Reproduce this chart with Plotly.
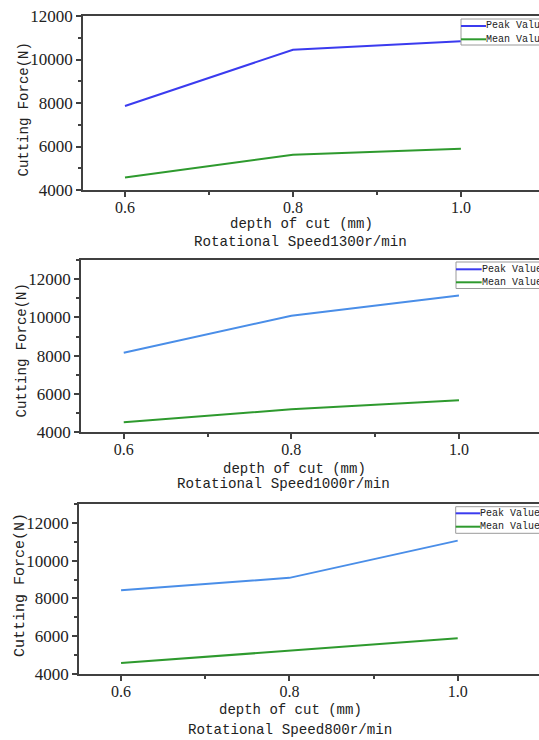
import plotly.graph_objects as go

W, H = 539, 740

depth = [0.6, 0.8, 1.0]
x_ticks = [0.6, 0.8, 1.0]
y_ticks = [4000, 6000, 8000, 10000, 12000]

speeds = ["Rotational Speed1300r/min", "Rotational Speed1000r/min", "Rotational Speed800r/min"]
peak_1300 = [7860, 10450, 10840]
mean_1300 = [4580, 5620, 5900]
peak_1000 = [8150, 10090, 11140]
mean_1000 = [4520, 5200, 5670]
peak_800 = [8440, 9090, 11060]
mean_800 = [4580, 5220, 5890]

series_names = ["Peak Value", "Mean Value"]
x_title = "depth of cut (mm)"
y_title = "Cutting Force(N)"

SERIF = "Liberation Serif"
MONO = "Liberation Mono"


def px(x):
    return x / W


def py(y):
    return 1 - y / H


panels = [
    dict(left=83, top=16, bottom=190, xr=[0.55, 1.093], yr=[4000, 12000],
         peak=peak_1300, mean=mean_1300, peak_color="#3b3bef",
         leg=dict(x=461, top=19, bottom=45, l1=26, l2=39.3, tx=485),
         xt1=(301, 224), xt2=(300, 241.5), yt=(24, 109.5), ytsize=14),
    dict(left=81, top=260, bottom=432.3, xr=[0.549, 1.0955], yr=[4000, 13000],
         peak=peak_1000, mean=mean_1000, peak_color="#4a8ee8",
         leg=dict(x=456, top=262, bottom=288.5, l1=269.3, l2=282.3, tx=480.7),
         xt1=(294, 469), xt2=(283, 483.5), yt=(21, 350.5), ytsize=14),
    dict(left=79, top=504, bottom=674, xr=[0.55, 1.0966], yr=[4000, 13000],
         peak=peak_800, mean=mean_800, peak_color="#4a8ee8",
         leg=dict(x=455.7, top=506.7, bottom=533.3, l1=513.3, l2=526.7, tx=479.3),
         xt1=(290, 709.5), xt2=(289.5, 730), yt=(20, 585), ytsize=15),
]

green = "#2e9a2e"
legend_blue = "#3b3bef"
axis_color = "#404040"

fig = go.Figure()
layout = dict(
    width=W, height=H,
    margin=dict(l=0, r=0, t=0, b=0, autoexpand=False),
    paper_bgcolor="white", plot_bgcolor="white",
    showlegend=False,
    font=dict(family=SERIF, color="#222", size=17),
)
shapes = []
annotations = []

for i, p in enumerate(panels):
    n = "" if i == 0 else str(i + 1)
    xa, ya = "x" + n, "y" + n
    fig.add_trace(go.Scatter(x=depth, y=p["peak"], mode="lines", name=series_names[0],
                             line=dict(color=p["peak_color"], width=2), xaxis=xa, yaxis=ya))
    fig.add_trace(go.Scatter(x=depth, y=p["mean"], mode="lines", name=series_names[1],
                             line=dict(color=green, width=2), xaxis=xa, yaxis=ya))
    layout["xaxis" + n] = dict(
        domain=[px(p["left"]), 1], range=p["xr"], anchor=ya,
        tickvals=x_ticks, tickformat=".1f", ticks="outside", ticklen=5, tickwidth=1.5,
        tickcolor=axis_color, showline=True, linecolor=axis_color, linewidth=1.8,
        mirror=True, showgrid=False, zeroline=False, ticklabelstandoff=-3,
        minor=dict(dtick=0.1, tick0=0.6, ticks="outside", ticklen=3, tickcolor=axis_color, showgrid=False),
        tickfont=dict(size=16, family=SERIF, color="#222"),
    )
    layout["yaxis" + n] = dict(
        domain=[py(p["bottom"]), py(p["top"])], range=p["yr"], anchor=xa,
        tickvals=y_ticks, tickformat="d", ticks="outside", ticklen=5, tickwidth=1.5,
        tickcolor=axis_color, showline=True, linecolor=axis_color, linewidth=1.8,
        mirror=False, showgrid=False, zeroline=False,
        minor=dict(dtick=1000, tick0=4000, ticks="outside", ticklen=3, tickcolor=axis_color, showgrid=False),
        tickfont=dict(size=17, family=SERIF, color="#222"),
    )
    annotations.append(dict(text=x_title, x=px(p["xt1"][0]), y=py(p["xt1"][1]), xref="paper", yref="paper",
                            xanchor="center", yanchor="middle", showarrow=False,
                            font=dict(family=MONO, size=14, color="#222")))
    annotations.append(dict(text=speeds[i], x=px(p["xt2"][0]), y=py(p["xt2"][1]), xref="paper", yref="paper",
                            xanchor="center", yanchor="middle", showarrow=False,
                            font=dict(family=MONO, size=14.2, color="#222")))
    annotations.append(dict(text=y_title, x=px(p["yt"][0]), y=py(p["yt"][1]), xref="paper", yref="paper",
                            xanchor="center", yanchor="middle", showarrow=False, textangle=-90,
                            font=dict(family=MONO, size=p["ytsize"], color="#222")))
    lg = p["leg"]
    shapes.append(dict(type="rect", xref="paper", yref="paper", x0=px(lg["x"]), x1=px(W + 40),
                       y0=py(lg["bottom"]), y1=py(lg["top"]),
                       line=dict(color="#9a9a9a", width=1), fillcolor="white", layer="above"))
    for yy, col, name in [(lg["l1"], legend_blue, series_names[0]), (lg["l2"], green, series_names[1])]:
        shapes.append(dict(type="line", xref="paper", yref="paper", x0=px(lg["x"]), x1=px(lg["tx"] + 1),
                           y0=py(yy), y1=py(yy), line=dict(color=col, width=2), layer="above"))
        annotations.append(dict(text=name, x=px(lg["tx"] - 1), y=py(yy), xref="paper", yref="paper",
                                xanchor="left", yanchor="middle", showarrow=False,
                                font=dict(family=MONO, size=10, color="#222")))

layout["shapes"] = shapes
layout["annotations"] = annotations
fig.update_layout(**layout)
fig.write_html("out.html")
